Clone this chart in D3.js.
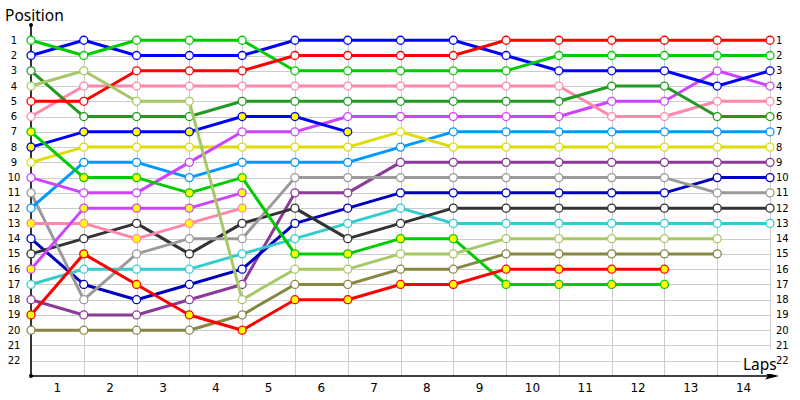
<!DOCTYPE html>
<html>
<head>
<meta charset="utf-8">
<script src="https://cdn.jsdelivr.net/npm/d3@7"></script>
<style>
  html, body { margin: 0; padding: 0; background: #fff; }
  svg { display: block; }
</style>
</head>
<body>
<svg id="chart" width="800" height="400"></svg>
<script>
// ---- data ----
const laps = [1,2,3,4,5,6,7,8,9,10,11,12,13,14];
const positionTicks = d3.range(1, 23);

const redA      = [5,5,3,3,3,2,2,2,2,1,1,1,1,1,1];
const redB      = [19,15,17,19,20,18,18,17,17,16,16,16,16];
const greenA    = [1,2,1,1,1,3,3,3,3,3,2,2,2,2,2];
const greenB    = [7,10,10,11,10,15,15,14,14,17,17,17,17];
const blueA     = [2,1,2,2,2,1,1,1,1,2,3,3,3,4,3];
const blueB     = [8,7,7,7,6,6,7];
const darkGreen = [3,6,6,6,5,5,5,5,5,5,5,4,4,6,6];
const lightGreen= [4,3,5,5,18,16,16,15,15,14,14,14,14,14];
const pinkA     = [6,4,4,4,4,4,4,4,4,4,4,6,6,5,5];
const pinkB     = [13,13,14,13,12];
const violetA   = [10,11,11,9,7,7,6,6,6,6,6,5,5,3,4];
const violetB   = [16,12,12,12,11];
const yellow    = [9,8,8,8,8,8,8,7,8,8,8,8,8,8,8];
const skyBlue   = [12,9,9,10,9,9,9,8,7,7,7,7,7,7,7];
const grey      = [11,18,15,14,14,10,10,10,10,10,10,10,10,11,11];
const purple    = [18,19,19,18,17,11,11,9,9,9,9,9,9,9,9];
const navy      = [14,17,18,17,16,13,12,11,11,11,11,11,11,10,10];
const charcoal  = [15,14,13,15,13,12,14,13,12,12,12,12,12,12,12];
const cyan      = [17,16,16,16,15,14,13,12,13,13,13,13,13,13,13];
const olive     = [20,20,20,20,19,17,17,16,16,15,15,15,15,15];

// [values, colour, yellow-filled markers]
const series = [
  [olive,     "#878743", false],
  [purple,    "#8b3a99", false],
  [navy,      "#0000c0", false],
  [cyan,      "#33cccc", false],
  [charcoal,  "#333333", false],
  [grey,      "#9a9a9a", false],
  [skyBlue,   "#0099ff", false],
  [yellow,    "#dddd00", false],
  [violetA,   "#cc44ff", false],
  [pinkA,     "#ff88aa", false],
  [darkGreen, "#229922", false],
  [blueA,     "#0000ff", false],
  [greenA,    "#00cc00", false],
  [redA,      "#ff0000", false],
  [pinkB,     "#ff88aa", true],
  [violetB,   "#cc44ff", true],
  [blueB,     "#0000ff", true],
  [greenB,    "#00cc00", true],
  [redB,      "#ff0000", true],
  [lightGreen,"#a6c866", false]
];

// ---- scales ----
const x = d3.scaleLinear().domain([0, 14]).range([31, 770]);
const y = d3.scaleLinear().domain([0, 23]).range([25, 376]);

const svg = d3.select("#chart");

// grid
const grid = svg.append("g").attr("stroke", "#cccccc").attr("stroke-width", 1);
grid.selectAll("line.h").data(positionTicks).join("line")
  .attr("x1", x(0)).attr("x2", x(14))
  .attr("y1", d => Math.round(y(d)) + 0.5).attr("y2", d => Math.round(y(d)) + 0.5);
grid.selectAll("line.v").data(d3.range(1, 15)).join("line")
  .attr("x1", d => Math.round(x(d)) + 0.5).attr("x2", d => Math.round(x(d)) + 0.5)
  .attr("y1", y(1)).attr("y2", y(23));

// axes lines
svg.append("line").attr("x1", x(0)).attr("x2", x(0)).attr("y1", y(0)).attr("y2", y(23))
  .attr("stroke", "#000").attr("stroke-width", 1.6);
svg.append("line").attr("x1", x(0)).attr("x2", 776).attr("y1", y(23)).attr("y2", y(23))
  .attr("stroke", "#000").attr("stroke-width", 1.6);
svg.append("circle").attr("cx", x(0)).attr("cy", y(0)).attr("r", 2).attr("fill", "#000");
svg.append("circle").attr("cx", x(0)).attr("cy", y(23)).attr("r", 2).attr("fill", "#000");
svg.append("path")
  .attr("d", `M779,${y(23)} L765,${y(23)-3.5} L768,${y(23)} L765,${y(23)+3.5} Z`)
  .attr("fill", "#000");

// position labels
const fontNum = "DejaVu Sans, Verdana, sans-serif";
svg.append("g").selectAll("text").data(positionTicks).join("text")
  .attr("x", 14).attr("y", d => y(d)).attr("dy", "0.35em")
  .attr("text-anchor", "middle").attr("font-family", fontNum).attr("font-size", 10)
  .attr("fill", "#000").text(d => d);
svg.append("g").selectAll("text").data(positionTicks).join("text")
  .attr("x", 776).attr("y", d => y(d)).attr("dy", "0.35em")
  .attr("text-anchor", "start").attr("font-family", fontNum).attr("font-size", 10)
  .attr("fill", "#000").text(d => d);

// lap labels
svg.append("g").selectAll("text").data(laps).join("text")
  .attr("x", d => x(d - 0.5)).attr("y", 392)
  .attr("text-anchor", "middle").attr("font-family", fontNum).attr("font-size", 12)
  .attr("fill", "#000").text(d => d);

// titles
svg.append("text").attr("x", 5).attr("y", 21).attr("font-family", "Noto Sans, sans-serif")
  .attr("font-size", 15.5).attr("fill", "#000").text("Position");
svg.append("rect").attr("x", 741).attr("y", 349).attr("width", 34).attr("height", 25).attr("fill", "#fff");
svg.append("text").attr("x", 743).attr("y", 370).attr("font-family", "Noto Sans, sans-serif")
  .attr("font-size", 15.5).attr("fill", "#000").text("Laps");

// series
const line = d3.line().x((d, i) => x(i)).y(d => y(d));
series.forEach(([vals, col, filled]) => {
  const g = svg.append("g");
  g.append("path").datum(vals).attr("d", line)
    .attr("fill", "none").attr("stroke", col).attr("stroke-width", 3)
    .attr("stroke-linejoin", "round");
  g.selectAll("circle").data(vals).join("circle")
    .attr("cx", (d, i) => x(i)).attr("cy", d => y(d)).attr("r", 4)
    .attr("fill", filled ? "#ffff00" : "#ffffff")
    .attr("stroke", col).attr("stroke-width", 1.3);
});
</script>
</body>
</html>
